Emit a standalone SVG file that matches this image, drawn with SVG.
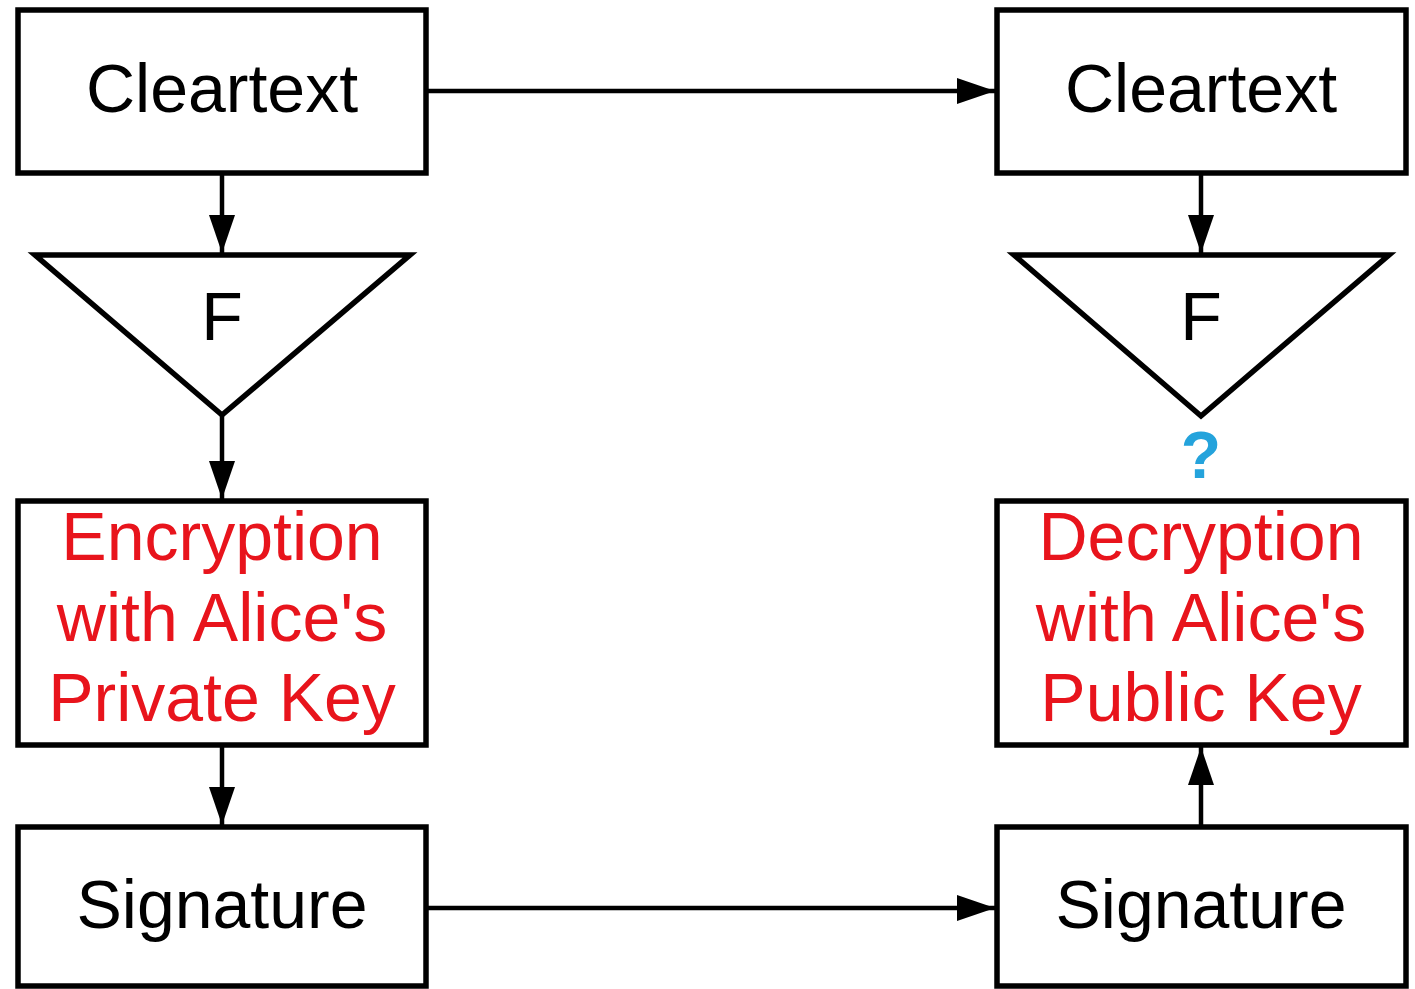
<svg xmlns="http://www.w3.org/2000/svg" width="1415" height="989" viewBox="0 0 1415 989">
  <defs>
    <style>
      .box { fill: #ffffff; stroke: #000000; stroke-width: 5.5; stroke-linejoin: miter; }
      .wire { stroke: #000000; stroke-width: 4.5; fill: none; marker-end: url(#head); }
      .lbl { font-family: "Liberation Sans", Arial, sans-serif; font-size: 68px; text-anchor: middle; fill: #000000; }
      .red { fill: #e8141c; }
      .q { font-family: "Liberation Sans", Arial, sans-serif; font-size: 66px; font-weight: bold; text-anchor: middle; fill: #24a3dc; }
    </style>
    <marker id="head" markerUnits="userSpaceOnUse" markerWidth="40" markerHeight="28" refX="38" refY="14" orient="auto">
      <path d="M0,1 L38,14 L0,27 z" fill="#000000"/>
    </marker>
  </defs>
  <rect width="1415" height="989" fill="#ffffff"/>

  <g id="connectors">
    <line class="wire" x1="427" y1="91" x2="995" y2="91"/>
    <line class="wire" x1="222" y1="175" x2="222" y2="253"/>
    <line class="wire" x1="1201" y1="175" x2="1201" y2="253"/>
    <line class="wire" x1="222" y1="416" x2="222" y2="499"/>
    <line class="wire" x1="222" y1="747" x2="222" y2="825"/>
    <line class="wire" x1="427" y1="908" x2="995" y2="908"/>
    <line class="wire" x1="1201" y1="825" x2="1201" y2="747"/>
  </g>

  <g id="cleartext-left">
    <rect class="box" x="18" y="10" width="408" height="163"/>
    <text class="lbl" x="222" y="112">Cleartext</text>
  </g>

  <g id="cleartext-right">
    <rect class="box" x="997" y="10" width="409" height="163"/>
    <text class="lbl" x="1201" y="112">Cleartext</text>
  </g>

  <g id="f-left">
    <polygon class="box" points="35,255 410,255 222,415"/>
    <text class="lbl" x="222" y="340">F</text>
  </g>

  <g id="f-right">
    <polygon class="box" points="1014,255 1389,255 1201,416"/>
    <text class="lbl" x="1201" y="340">F</text>
  </g>

  <g id="question">
    <text class="q" x="1201" y="478">?</text>
  </g>

  <g id="encryption">
    <rect class="box" x="18" y="501" width="408" height="244"/>
    <text class="lbl red" x="222" y="560">Encryption</text>
    <text class="lbl red" x="222" y="641">with Alice's</text>
    <text class="lbl red" x="222" y="721">Private Key</text>
  </g>

  <g id="decryption">
    <rect class="box" x="997" y="501" width="409" height="244"/>
    <text class="lbl red" x="1201" y="560">Decryption</text>
    <text class="lbl red" x="1201" y="641">with Alice's</text>
    <text class="lbl red" x="1201" y="721">Public Key</text>
  </g>

  <g id="signature-left">
    <rect class="box" x="18" y="827" width="408" height="159"/>
    <text class="lbl" x="222" y="928">Signature</text>
  </g>

  <g id="signature-right">
    <rect class="box" x="997" y="827" width="409" height="159"/>
    <text class="lbl" x="1201" y="928">Signature</text>
  </g>
</svg>
